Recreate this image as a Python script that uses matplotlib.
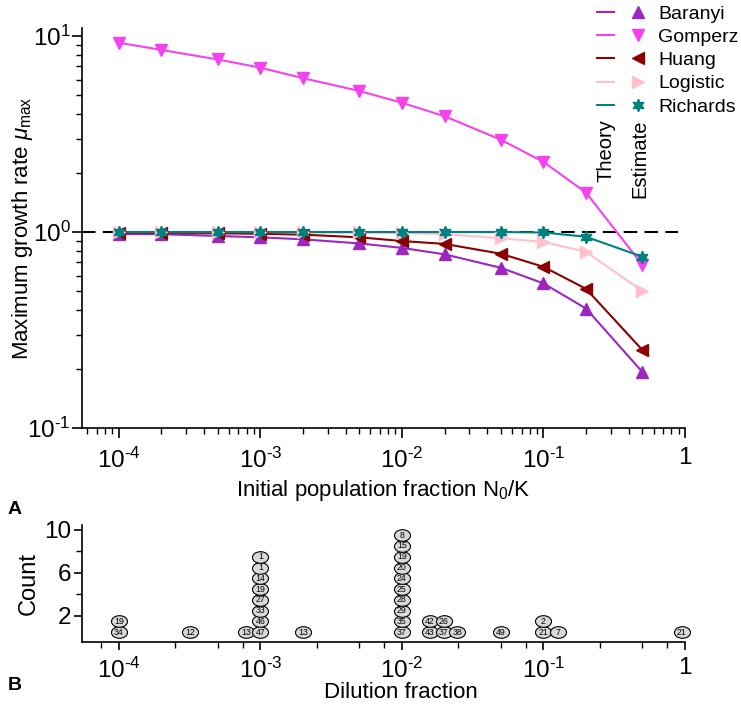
import matplotlib
matplotlib.use("Agg")
import matplotlib.pyplot as plt
import numpy as np
from matplotlib.lines import Line2D
from matplotlib.legend_handler import HandlerTuple
from matplotlib.markers import MarkerStyle
from matplotlib.transforms import Affine2D
from matplotlib.ticker import FixedLocator, FixedFormatter, NullFormatter

plt.rcParams['font.family'] = ['Liberation Sans', 'DejaVu Sans']
plt.rcParams['mathtext.fontset'] = 'custom'
plt.rcParams['mathtext.rm'] = 'Liberation Sans'
plt.rcParams['mathtext.it'] = 'Liberation Sans:italic'
plt.rcParams['mathtext.bf'] = 'Liberation Sans:bold'

LAB_FS = 16

# ---------------- data: panel A ----------------
n0_frac = [1e-4, 2e-4, 5e-4, 1e-3, 2e-3, 5e-3, 1e-2, 2e-2, 5e-2, 0.1, 0.2, 0.5]
baranyi = [0.977, 0.975, 0.955, 0.94, 0.918, 0.875, 0.83, 0.77, 0.657, 0.547, 0.407, 0.193]
gomperz = [9.25, 8.5, 7.6, 6.9, 6.1, 5.25, 4.57, 3.9, 2.96, 2.28, 1.59, 0.68]
huang = [0.99, 0.99, 0.985, 0.98, 0.97, 0.94, 0.90, 0.87, 0.775, 0.665, 0.513, 0.25]
logistic = [1.0, 1.0, 1.0, 1.0, 0.998, 0.995, 0.99, 0.975, 0.93, 0.89, 0.793, 0.50]
richards = [1.0, 1.0, 1.0, 1.0, 1.0, 1.0, 1.0, 1.0, 1.0, 0.995, 0.946, 0.748]

model_names = ["Baranyi", "Gomperz", "Huang", "Logistic", "Richards"]
model_values = [baranyi, gomperz, huang, logistic, richards]
model_colors = ["#9b27c0", "#f641ee", "#8b0000", "#ffc0cb", "#008080"]
model_markers = ["^", "v", "<", ">", (6, 1, 0)]

xtick_vals = [1e-4, 1e-3, 1e-2, 1e-1, 1]
xtick_labels = ["$10^{\u20104}$", "$10^{\u20103}$", "$10^{\u20102}$", "$10^{\u20101}$", "1"]
ytick_vals = [0.1, 1, 10]
ytick_labels = ["$10^{\u20101}$", "$10^{0}$", "$10^{1}$"]

# ---------------- data: panel B ----------------
dil_x = [1e-4, 1e-4, 3.2e-4, 7.9e-4,
         1e-3, 1e-3, 1e-3, 1e-3, 1e-3, 1e-3, 1e-3, 1e-3,
         2e-3,
         1e-2, 1e-2, 1e-2, 1e-2, 1e-2, 1e-2, 1e-2, 1e-2, 1e-2, 1e-2,
         0.0157, 0.0157, 0.0197, 0.0197, 0.0247, 0.05,
         0.1, 0.1, 0.126, 0.95]
dil_level = [1, 2, 1, 1,
             1, 2, 3, 4, 5, 6, 7, 8,
             1,
             1, 2, 3, 4, 5, 6, 7, 8, 9, 10,
             1, 2, 1, 2, 1, 1,
             1, 2, 1, 1]
dil_id = ["34", "19", "12", "13",
          "47", "46", "33", "27", "19", "14", "1", "1",
          "13",
          "37", "35", "29", "28", "25", "24", "20", "19", "15", "8",
          "43", "42", "37", "26", "38", "49",
          "21", "2", "7", "21"]
count_ticks = [2, 6, 10]
count_minor = [4, 8]

W, H = 741, 710
fig = plt.figure(figsize=(W / 100, H / 100), dpi=100)

def fx(px):
    return px / W

def fy(py):
    return 1 - py / H

TICK_FS = 17.5
AX_W = 685 - 82

# ---------------- panel A ----------------
axA = fig.add_axes([fx(82), fy(428), fx(685) - fx(82), fy(28) - fy(428)])
axA.set_xscale('log')
axA.set_yscale('log')
axA.set_xlim(10 ** -4.26, 1)
axA.set_ylim(0.1, 11)

axA.plot([10 ** -4.26, 10 ** -0.05], [1, 1], color='black', lw=1.5,
         dashes=(6.5, 3.5), zorder=1)

handles = []
for name, vals, col, mk in zip(model_names, model_values, model_colors, model_markers):
    ms = 9 if mk == (6, 1, 0) else 8
    axA.plot(n0_frac, vals, color=col, lw=1.5, zorder=2)
    axA.plot(n0_frac, vals, linestyle='none', marker=mk, color=col,
             markersize=ms, zorder=3)
    lh = Line2D([], [], color=col, lw=1.5)
    mh = Line2D([], [], color=col, marker=mk, linestyle='none', markersize=ms)
    handles.append((lh, mh))

for sp in ['top', 'right']:
    axA.spines[sp].set_visible(False)
for sp in ['left', 'bottom']:
    axA.spines[sp].set_linewidth(1.2)

axA.xaxis.set_major_locator(FixedLocator(xtick_vals))
axA.xaxis.set_major_formatter(FixedFormatter(xtick_labels))
axA.yaxis.set_major_locator(FixedLocator(ytick_vals))
axA.yaxis.set_major_formatter(FixedFormatter(ytick_labels))
axA.xaxis.set_minor_formatter(NullFormatter())
axA.yaxis.set_minor_formatter(NullFormatter())
axA.tick_params(which='major', length=7, width=1.2, labelsize=TICK_FS)
axA.tick_params(which='minor', length=4, width=1.0)
axA.tick_params(axis='x', which='major', pad=7)
axA.tick_params(axis='y', which='major', pad=1)
axA.set_xlabel("Initial population fraction N$_0$/K", fontsize=LAB_FS, labelpad=4)
axA.set_ylabel(r"Maximum growth rate $\mu_{\rm max}$", fontsize=LAB_FS)
axA.yaxis.set_label_coords((35 - 82) / AX_W, 0.5)

leg = fig.legend(handles, model_names,
                 handler_map={tuple: HandlerTuple(ndivide=None, pad=0.8)},
                 loc='upper left', bbox_to_anchor=(fx(597), fy(5)),
                 bbox_transform=fig.transFigure, frameon=False,
                 fontsize=14, handlelength=2.55, handletextpad=0.6,
                 labelspacing=0.29, borderpad=0, borderaxespad=0)

fig.text(fx(606), fy(119), "Theory", rotation=90, ha='center', va='top', fontsize=14.5)
fig.text(fx(640), fy(119), "Estimate", rotation=90, ha='center', va='top', fontsize=14.5)

# ---------------- panel B ----------------
axB = fig.add_axes([fx(82), fy(642), fx(685) - fx(82), fy(525) - fy(642)])
axB.set_xscale('log')
axB.set_xlim(10 ** -4.26, 1)
axB.set_ylim(-0.42, 10.45)

ell = MarkerStyle('o', transform=Affine2D().scale(1.38, 1.0))
ys = [lv - 0.5 for lv in dil_level]
axB.scatter(dil_x, ys, marker=ell, s=70, facecolor='#d9d9d9',
            edgecolor='black', linewidth=0.8, zorder=3, clip_on=False)
for x, y, t in zip(dil_x, ys, dil_id):
    axB.text(x, y, t, ha='center', va='center', fontsize=6.3, zorder=4)

for sp in ['top', 'right']:
    axB.spines[sp].set_visible(False)
for sp in ['left', 'bottom']:
    axB.spines[sp].set_linewidth(1.2)

axB.xaxis.set_major_locator(FixedLocator(xtick_vals))
axB.xaxis.set_major_formatter(FixedFormatter(xtick_labels))
minor_b = [m * 10.0 ** e for e in range(-5, 1) for m in (2.5, 5, 7.5)]
axB.xaxis.set_minor_locator(FixedLocator([v for v in minor_b if 10 ** -4.26 < v < 1]))
axB.xaxis.set_minor_formatter(NullFormatter())
axB.yaxis.set_major_locator(FixedLocator(count_ticks))
axB.yaxis.set_minor_locator(FixedLocator(count_minor))
axB.tick_params(which='major', length=6, width=1.2, labelsize=TICK_FS)
axB.tick_params(which='minor', length=4, width=1.0)
axB.tick_params(axis='x', which='major', pad=5)
axB.tick_params(axis='y', which='major', pad=2)
axB.set_xlabel("Dilution fraction", fontsize=LAB_FS)
axB.xaxis.set_label_coords((401 - 82) / AX_W, -0.34)
axB.xaxis.label.set_va('top')
axB.set_ylabel("Count", fontsize=LAB_FS + 1)
axB.yaxis.set_label_coords((40 - 82) / AX_W, 0.5)

fig.text(fx(8), fy(510), "A", fontsize=14, fontweight='bold', ha='left', va='center')
fig.text(fx(8), fy(686), "B", fontsize=14, fontweight='bold', ha='left', va='center')

fig.savefig("out.png", dpi=100)
